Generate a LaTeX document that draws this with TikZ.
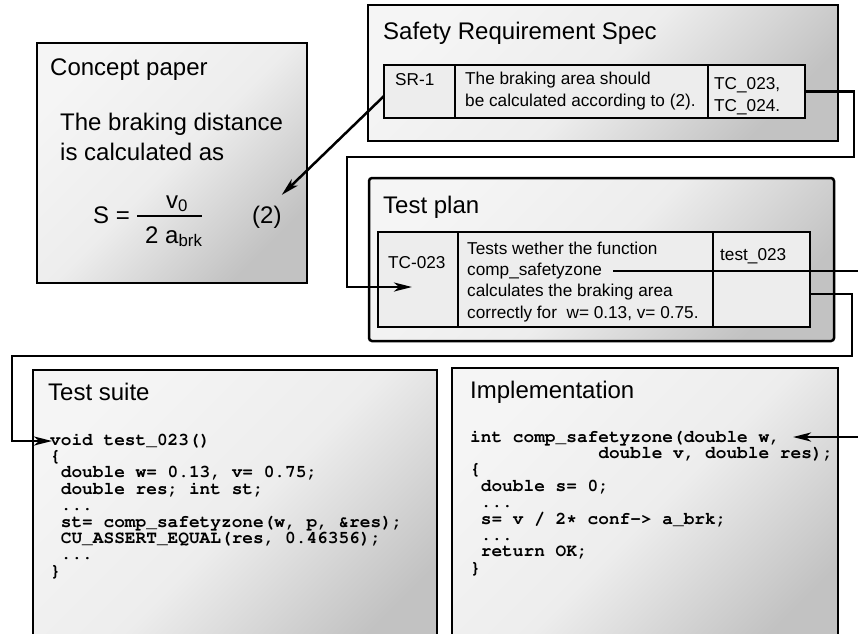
\documentclass[tikz,border=0pt]{standalone}
\usepackage[T1]{fontenc}
\usepackage{fontspec}
\setmainfont{Liberation Sans}
\newcommand\codefont{\fontencoding{T1}\fontfamily{pcr}\fontseries{b}\selectfont}
\usetikzlibrary{positioning}
\usetikzlibrary{arrows.meta}
\setlength{\lineskiplimit}{-20pt}
\definecolor{boxlight}{gray}{0.96}
\definecolor{boxmid}{gray}{0.93}
\definecolor{boxdark}{gray}{0.76}
\definecolor{cellfill}{gray}{0.93}

\tikzset{
  box/.style={draw, line width=2.5pt, inner sep=0pt, outer sep=0pt, anchor=north west,
    top color=boxlight, bottom color=boxdark, middle color=boxmid, shading angle=45},
  cell/.style={draw, line width=2.5pt, fill=cellfill, inner sep=0pt, outer sep=0pt, anchor=north west},
  heading/.style={font=\fontsize{24}{30}\selectfont, inner sep=0pt, anchor=base west},
  prose/.style={font=\fontsize{24}{30}\selectfont, inner sep=0pt, anchor=north west, align=left},
  celltext/.style={font=\fontsize{17.2}{22}\selectfont, inner sep=0pt, anchor=north west, align=left},
  code/.style={font=\codefont\fontsize{17.8}{16.4}\selectfont, inner sep=0pt, anchor=north west, align=left},
  link/.style={line width=2.5pt, -{Stealth[length=18pt,width=9pt,inset=5pt]}},
}

\begin{document}
\begin{tikzpicture}[x=1pt, y=-1pt]
\useasboundingbox (0,0) rectangle (858,633);

% Concept paper
\node[box, minimum width=270pt, minimum height=240pt] (concept) at (37,43) {};
\node[heading] (concepttitle) at ([shift={(13,32)}]concept.north west) {Concept paper};
\node[prose] (conceptbody) at ([shift={(23,69.5)}]concept.north west) {The braking distance\\is calculated as};
\node[heading] (slhs) at ([shift={(56,180)}]concept.north west) {S =};
\node[heading] (snum) at ([shift={(129,165)}]concept.north west) {v\textsubscript{0}};
\node[heading] (sden) at ([shift={(108,200)}]concept.north west) {2 a\textsubscript{brk}};
\draw[line width=2pt] ([shift={(100,173)}]concept.north west) -- ([shift={(165,173)}]concept.north west);
\node[heading] (eq2) at ([shift={(215,180)}]concept.north west) {(2)};

% Safety Requirement Spec
\node[box, minimum width=470pt, minimum height=136pt] (srs) at (368,5) {};
\node[heading] (srstitle) at ([shift={(15,34)}]srs.north west) {Safety Requirement Spec};
\node[cell, minimum width=71pt, minimum height=53pt] (sr1) at (384,65) {};
\node[cell, minimum width=253pt, minimum height=53pt, right=0pt of sr1] (srdesc) {};
\node[cell, minimum width=97pt, minimum height=53pt, right=0pt of srdesc] (srtc) {};
\node[celltext, anchor=base west] (sr1text) at ([shift={(11,20)}]sr1.north west) {SR-1};
\node[celltext] (srdesctext) at ([shift={(10,6.5)}]srdesc.north west) {The braking area should\\be calculated according to (2).};
\node[celltext] (srtctext) at ([shift={(6,12.5)}]srtc.north west) {TC\_023,\\TC\_024.};

% Test plan
\node[box, rounded corners=3pt, minimum width=465pt, minimum height=163pt] (plan) at (369,178) {};
\node[heading] (plantitle) at ([shift={(14,35)}]plan.north west) {Test plan};
\node[cell, minimum width=80pt, minimum height=95pt] (tc) at (378,232) {};
\node[cell, minimum width=255pt, minimum height=95pt, right=0pt of tc] (tcdesc) {};
\node[cell, minimum width=97pt, minimum height=95pt, right=0pt of tcdesc] (tctest) {};
\node[celltext, anchor=base west] (tctext) at ([shift={(10,36)}]tc.north west) {TC-023};
\node[celltext, font=\fontsize{17.2}{21.3}\selectfont] (tcdesctext) at ([shift={(9,9.5)}]tcdesc.north west)
  {Tests wether the function\\comp\_safetyzone\\calculates the braking area\\correctly for~ w= 0.13, v= 0.75.};
\node[celltext, anchor=base west] (tctesttext) at ([shift={(7,28)}]tctest.north west) {test\_023};

% Test suite
\node[box, minimum width=404pt, minimum height=300pt] (suite) at (33,370) {};
\node[heading] (suitetitle) at ([shift={(15,30)}]suite.north west) {Test suite};
\node[code] (suitecode) at ([shift={(17,63)}]suite.north west) {void test\_023()\\
\{\\
\phantom{x}double w= 0.13, v= 0.75;\\
\phantom{x}double res; int st;\\
\phantom{x}...\\
\phantom{x}st= comp\_safetyzone(w, p, \&res);\\
\phantom{x}CU\_ASSERT\_EQUAL(res, 0.46356);\\
\phantom{x}...\\
\}};

% Implementation
\node[box, minimum width=386pt, minimum height=300pt] (impl) at (452,368) {};
\node[heading] (impltitle) at ([shift={(18,30)}]impl.north west) {Implementation};
\node[code] (implcode) at ([shift={(18,62)}]impl.north west) {int comp\_safetyzone(double w,\\
\phantom{xxxxxxxxxxxx}double v, double res);\\
\{\\
\phantom{x}double s= 0;\\
\phantom{x}...\\
\phantom{x}s= v / 2* conf-> a\_brk;\\
\phantom{x}...\\
\phantom{x}return OK;\\
\}};

% Verbindungen
\coordinate (tcin) at ([shift={(34,55)}]tc.north west);
\coordinate (fnref) at ([shift={(155,39)}]tcdesc.north west);
\coordinate (implin) at ([shift={(341,69)}]impl.north west);
\coordinate (suitein) at ([shift={(19,71)}]suite.north west);

\draw[link] ([yshift=-4.5pt]sr1.west) -- ([shift={(0,-10.5)}]eq2.north east);
\draw[link] (srtc.east) -| (854,157) -| (347,287) -- (tcin);
\draw[link] (fnref) -- ++(262,0) |- (implin);
\draw[link] ([yshift=-14.5pt]tctest.east) -| (852,356) -| (12,441) -- (suitein);
\end{tikzpicture}
\end{document}
